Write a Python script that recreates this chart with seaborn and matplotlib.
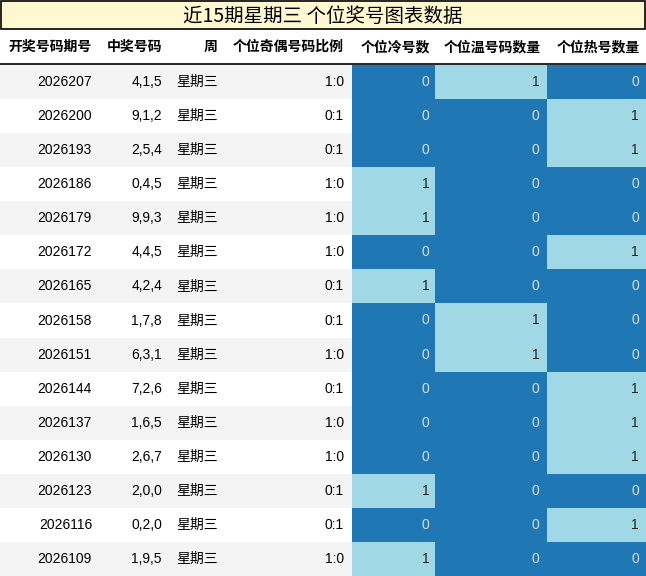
import matplotlib
matplotlib.use("Agg")
import matplotlib.pyplot as plt
import seaborn as sns
import numpy as np
from matplotlib.colors import ListedColormap
from matplotlib.patches import Rectangle

title = "近15期星期三 个位奖号图表数据"
headers = ["开奖号码期号", "中奖号码", "周", "个位奇偶号码比例", "个位冷号数", "个位温号码数量", "个位热号数量"]
issues = ["2026207","2026200","2026193","2026186","2026179","2026172","2026165","2026158","2026151","2026144","2026137","2026130","2026123","2026116","2026109"]
numbers = ["4,1,5","9,1,2","2,5,4","0,4,5","9,9,3","4,4,5","4,2,4","1,7,8","6,3,1","7,2,6","1,6,5","2,6,7","2,0,0","0,2,0","1,9,5"]
weekday = ["星期三"] * 15
ratio = ["1:0","0:1","0:1","1:0","1:0","1:0","0:1","0:1","1:0","0:1","1:0","1:0","0:1","0:1","1:0"]
cold = [0,0,0,1,1,0,1,0,0,0,0,0,1,0,1]
warm = [1,0,0,0,0,0,0,1,1,0,0,0,0,0,0]
hot  = [0,1,1,0,0,1,0,0,0,1,1,1,0,1,0]

W, H = 646, 576
fig = plt.figure(figsize=(W/100, H/100), dpi=100)
plt.rcParams['font.family'] = ['Noto Sans CJK SC', 'DejaVu Sans']
bg = fig.add_axes([0, 0, 1, 1])
bg.set_xlim(0, W); bg.set_ylim(H, 0); bg.axis('off')

bg.add_patch(Rectangle((1, 1), W-2, 28, facecolor='#fff8d0', edgecolor='black', lw=1.2))
bg.text(W/2, 16, title, ha='center', va='center', fontsize=14, family=['Noto Sans CJK SC', 'DejaVu Sans'])

top, rh = 65, (H-65)/15
hx = [(92,'right'),(162,'right'),(218,'right'),(344,'right'),(430,'right'),(541,'right'),(640,'right')]
for (x, ha), h in zip(hx, headers):
    bg.text(x, 47, h, ha=ha, va='center', fontsize=10, fontweight='bold')
bg.plot([0, W], [64, 64], color='black', lw=1.2)

for i in range(15):
    y = top + i*rh
    if i % 2 == 0:
        bg.add_patch(Rectangle((0, y), 352, rh, facecolor='#f4f4f4', edgecolor='none'))
    cy = y + rh/2
    bg.text(92, cy, issues[i], ha='right', va='center', fontsize=10, family='Liberation Sans')
    bg.text(162, cy, numbers[i], ha='right', va='center', fontsize=10, family='Liberation Sans')
    bg.text(176, cy, weekday[i], ha='left', va='center', fontsize=10)
    bg.text(344, cy, ratio[i], ha='right', va='center', fontsize=10, family='Liberation Sans')

# heatmap columns with differing widths
cols = [(352, 435, cold), (435, 547, warm), (547, 646, hot)]
cmap = ListedColormap(['#1f77b4', '#a0d8e6'])
for x0, x1, vals in cols:
    ax = fig.add_axes([x0/W, 0, (x1-x0)/W, (H-top)/H])
    data = np.array(vals).reshape(-1, 1)
    sns.heatmap(data, ax=ax, cmap=cmap, vmin=0, vmax=1, cbar=False, annot=False,
                xticklabels=False, yticklabels=False)
    for i, v in enumerate(vals):
        ax.text(0.93, i+0.5, str(v), ha='right', va='center', fontsize=10,
                color='#dddddd' if v == 0 else '#222222', family='Liberation Sans')

fig.savefig("out.png", dpi=100)
